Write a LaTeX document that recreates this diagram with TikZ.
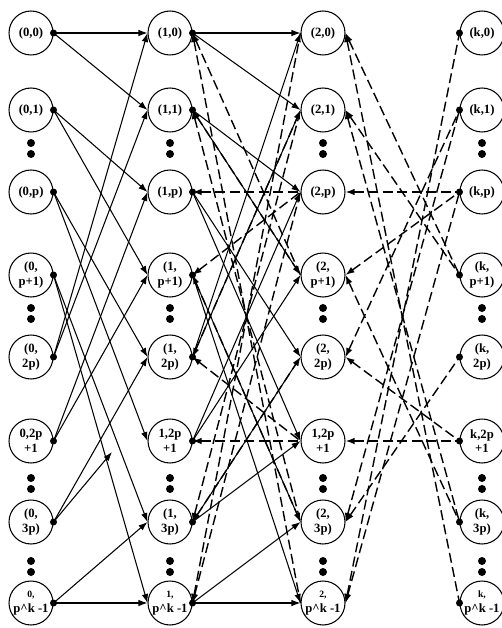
\documentclass[tikz,border=0pt]{standalone}
\usepackage{fontspec}
\setmainfont{Liberation Serif}
\usetikzlibrary{arrows.meta}
\begin{document}
\begin{tikzpicture}[x=0.02cm,y=-0.02cm]
\useasboundingbox (0,0) rectangle (502,628);

      \begin{scope}[every node/.style={circle,draw,line width=0.6pt,minimum size=0.88cm,inner sep=0pt,align=center,
          font=\fontsize{7.2}{8.4}\selectfont\bfseries}]
        \node (0-0)   at (31,33)  {(0,0)};
        \node (0-1)   at (31,110) {(0,1)};
        \node (0-p)   at (31,192) {(0,p)};
        \node (0-p1)  at (31,275) {(0,\\p+1)};
        \node (0-2p)  at (31,357) {(0,\\2p)};
        \node (0-2p1) at (31,441) {0,2p\\+1};
        \node (0-3p)  at (31,522) {(0,\\3p)};
        \node (0-end) at (31,603) {\fontsize{5.5}{7}\selectfont 0,\\p\textasciicircum k -1};

        \node (1-0)   at (170,33)  {(1,0)};
        \node (1-1)   at (170,110) {(1,1)};
        \node (1-p)   at (170,192) {(1,p)};
        \node (1-p1)  at (170,275) {(1,\\p+1)};
        \node (1-2p)  at (170,357) {(1,\\2p)};
        \node (1-2p1) at (170,441) {1,2p\\+1};
        \node (1-3p)  at (170,522) {(1,\\3p)};
        \node (1-end) at (170,603) {\fontsize{5.5}{7}\selectfont 1,\\p\textasciicircum k -1};

        \node (2-0)   at (323,33)  {(2,0)};
        \node (2-1)   at (323,110) {(2,1)};
        \node (2-p)   at (323,192) {(2,p)};
        \node (2-p1)  at (323,275) {(2,\\p+1)};
        \node (2-2p)  at (323,357) {(2,\\2p)};
        \node (2-2p1) at (323,441) {1,2p\\+1};
        \node (2-3p)  at (323,522) {(2,\\3p)};
        \node (2-end) at (323,603) {\fontsize{5.5}{7}\selectfont 2,\\p\textasciicircum k -1};

        \node (k-0)   at (482,33)  {(k,0)};
        \node (k-1)   at (482,110) {(k,1)};
        \node (k-p)   at (482,192) {(k,p)};
        \node (k-p1)  at (482,275) {(k,\\p+1)};
        \node (k-2p)  at (482,357) {(k,\\2p)};
        \node (k-2p1) at (482,441) {k,2p\\+1};
        \node (k-3p)  at (482,522) {(k,\\3p)};
        \node (k-end) at (482,603) {\fontsize{5.5}{7}\selectfont k,\\p\textasciicircum k -1};
      \end{scope}

      % ports and vertical dots
      \foreach \r in {0,1,p,p1,2p,2p1,3p,end} {
        \fill (0-\r.east) circle (3.5);
        \fill (1-\r.east) circle (3.5);
        \fill (k-\r.west) circle (3.5);
      }
      \foreach \x in {31,170,323,482}
        \foreach \y in {143,154,308,319,478,489,561,572}
          \fill (\x,\y) circle (4);

      \coordinate (stub) at (112,452);

      \begin{scope}[every edge/.style={draw,line width=0.6pt,-{Latex[length=1.8mm,width=1.3mm]}}]
        \path (0-0.east)   edge (1-0.west);
        \path (0-0.east)   edge (1-1.west);
        \path (0-1.east)   edge (1-p.west);
        \path (0-1.east)   edge (1-p1.west);
        \path (0-p.east)   edge (1-2p.west);
        \path (0-p.east)   edge (1-2p1.west);
        \path (0-p1.east)  edge (1-3p.west);
        \path (0-p1.east)  edge (1-end.west);
        \path (0-2p.east)  edge (1-0.west);
        \path (0-2p.east)  edge (1-1.west);
        \path (0-2p1.east) edge (1-p.west);
        \path (0-2p1.east) edge (1-p1.west);
        \path (0-3p.east)  edge (1-2p.west);
        \path (0-3p.east)  edge (stub);
        \path (0-end.east) edge (1-3p.west);
        \path (0-end.east) edge (1-end.west);

        \path (1-0.east)   edge (2-0.west);
        \path (1-0.east)   edge (2-1.west);
        \path (1-1.east)   edge (2-p.west);
        \path (1-1.east)   edge (2-p1.west);
        \path (1-p.east)   edge (2-2p.west);
        \path (1-p.east)   edge (2-2p1.west);
        \path (1-p1.east)  edge (2-3p.west);
        \path (1-p1.east)  edge (2-end.west);
        \path (1-2p.east)  edge (2-0.west);
        \path (1-2p.east)  edge (2-1.west);
        \path (1-2p1.east) edge (2-p.west);
        \path (1-2p1.east) edge (2-p1.west);
        \path (1-3p.east)  edge (2-2p.west);
        \path (1-3p.east)  edge (2-2p1.west);
        \path (1-end.east) edge (2-3p.west);
        \path (1-end.east) edge (2-end.west);
      \end{scope}

      \begin{scope}[every edge/.style={draw,line width=0.8pt,dash pattern=on 2mm off 0.9mm,
          {Latex[length=1.8mm,width=1.3mm]}-}]
        \path (1-0.east)   edge (2-p1.west);
        \path (1-0.east)   edge (2-end.west);
        \path (1-1.east)   edge (2-p1.west);
        \path (1-1.east)   edge (2-3p.west);
        \path (1-p.east)   edge (2-p.west);
        \path (1-p1.east)  edge (2-p.west);
        \path (1-p1.east)  edge (2-3p.west);
        \path (1-2p.east)  edge (2-1.west);
        \path (1-2p.east)  edge (2-2p1.west);
        \path (1-2p1.east) edge (2-2p1.west);
        \path (1-3p.east)  edge (2-1.west);
        \path (1-3p.east)  edge (2-2p.west);
        \path (1-end.east) edge (2-0.west);
        \path (1-end.east) edge (2-p.west);

        \path (2-0.east)   edge (k-p1.west);
        \path (2-0.east)   edge (k-end.west);
        \path (2-1.east)   edge (k-p1.west);
        \path (2-1.east)   edge (k-3p.west);
        \path (2-p.east)   edge (k-p.west);
        \path (2-p1.east)  edge (k-p.west);
        \path (2-p1.east)  edge (k-3p.west);
        \path (2-2p.east)  edge (k-1.west);
        \path (2-2p.east)  edge (k-2p1.west);
        \path (2-2p1.east) edge (k-2p1.west);
        \path (2-3p.east)  edge (k-1.west);
        \path (2-3p.east)  edge (k-2p.west);
        \path (2-end.east) edge (k-0.west);
        \path (2-end.east) edge (k-p.west);
      \end{scope}

\end{tikzpicture}
\end{document}
